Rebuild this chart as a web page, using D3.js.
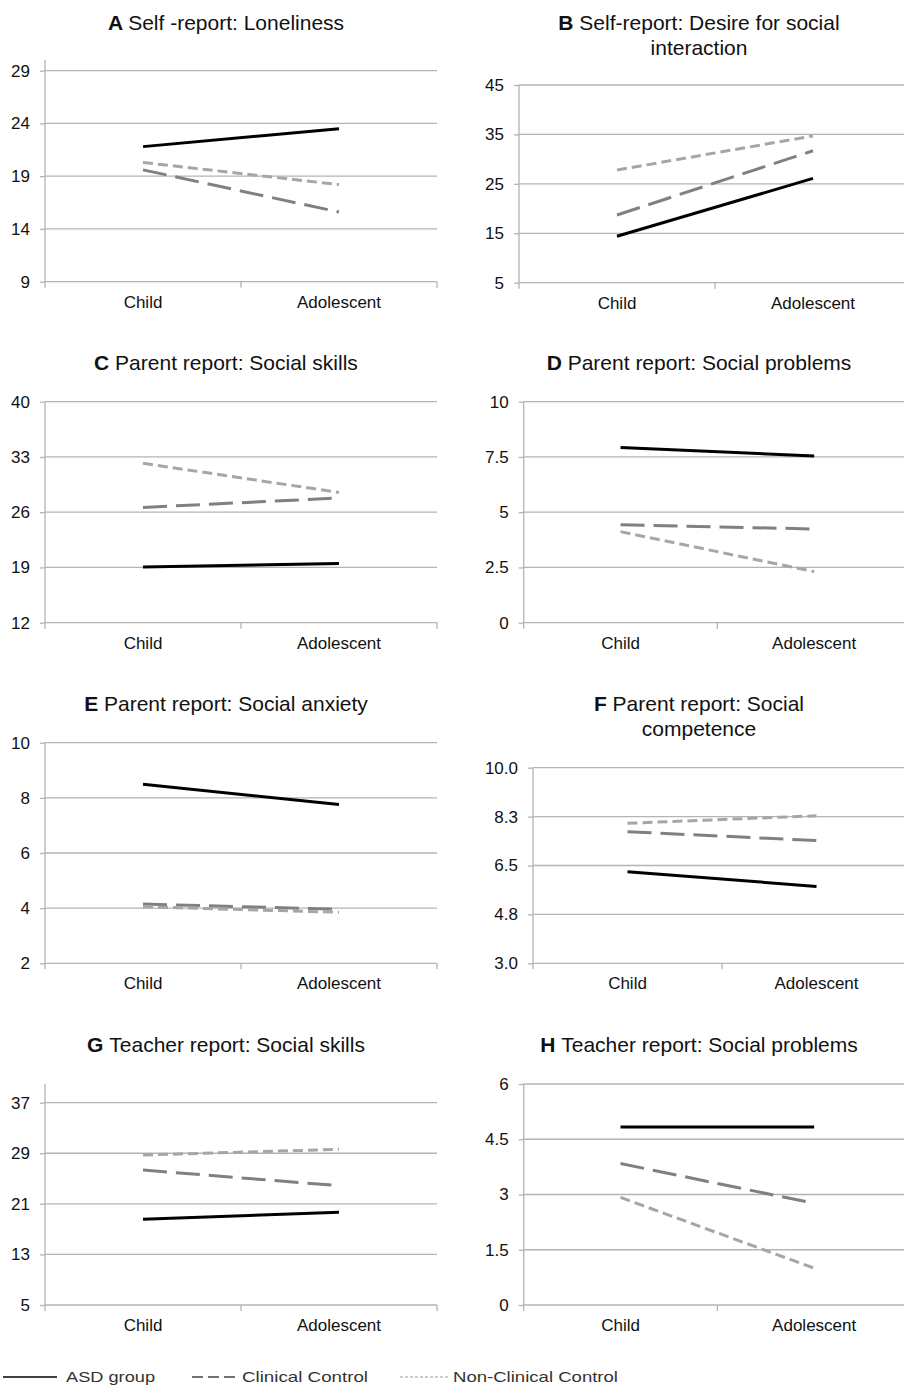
<!DOCTYPE html>
<html>
<head>
<meta charset="utf-8">
<script src="https://cdnjs.cloudflare.com/ajax/libs/d3/7.8.5/d3.min.js"></script>
<style>
  html, body { margin: 0; padding: 0; background: #fff; }
  svg { display: block; font-family: "Liberation Sans", Arial, sans-serif; }
</style>
</head>
<body>
<svg id="chart" width="904" height="1387"></svg>
<script>
// ---- Data -------------------------------------------------------------
const periods = ["Child", "Adolescent"];
const groups = ["ASD group", "Clinical Control", "Non-Clinical Control"];

const panelLetters = ["A", "B", "C", "D", "E", "F", "G", "H"];
const panelTitles = [
  ["Self -report: Loneliness"],
  ["Self-report: Desire for social", "interaction"],
  ["Parent report: Social skills"],
  ["Parent report: Social problems"],
  ["Parent report: Social anxiety"],
  ["Parent report: Social", "competence"],
  ["Teacher report: Social skills"],
  ["Teacher report: Social problems"]
];

// Mean scores per panel: [Child, Adolescent]
const asdValues = [
  [21.8, 23.5], [14.4, 26.1], [19.05, 19.5], [7.93, 7.54],
  [8.49, 7.76], [6.28, 5.75], [18.55, 19.66], [4.83, 4.83]
];
const clinicalValues = [
  [19.6, 15.6], [18.7, 31.7], [26.6, 27.8], [4.43, 4.24],
  [4.15, 3.96], [7.71, 7.39], [26.35, 23.87], [3.84, 2.76]
];
const nonClinicalValues = [
  [20.3, 18.2], [27.8, 34.7], [32.2, 28.5], [4.12, 2.31],
  [4.05, 3.85], [8.01, 8.28], [28.72, 29.62], [2.92, 1.0]
];

// Y-axis ticks and axis maximum per panel
const yTicks = [
  [9, 14, 19, 24, 29],
  [5, 15, 25, 35, 45],
  [12, 19, 26, 33, 40],
  [0, 2.5, 5, 7.5, 10],
  [2, 4, 6, 8, 10],
  [3, 4.75, 6.5, 8.25, 10],
  [5, 13, 21, 29, 37],
  [0, 1.5, 3, 4.5, 6]
];
const yMax = [30, 45, 40, 10, 10, 10, 40, 6];
const yTickFormats = ["d", "d", "d", "~g", "d", ".1f", "d", "~g"];

// ---- Layout -----------------------------------------------------------
const svg = d3.select("#chart");
const gridColor = "#b4b4b4";

// plot frames: left edge of y axis, right edge, pixel of bottom tick, pixel of axis top
const frames = [
  { x0: 45,    x1: 437, yb: 281.7,  yt: 60.1 },
  { x0: 519,   x1: 911, yb: 282.7,  yt: 85 },
  { x0: 45,    x1: 437, yb: 622.7,  yt: 401.7 },
  { x0: 523.7, x1: 911, yb: 622.7,  yt: 401.7 },
  { x0: 45,    x1: 437, yb: 963.3,  yt: 742.7 },
  { x0: 533,   x1: 911, yb: 963.3,  yt: 767.7 },
  { x0: 45,    x1: 437, yb: 1305,   yt: 1083.7 },
  { x0: 523.7, x1: 911, yb: 1305,   yt: 1084 }
];
const titleX = [226, 699, 226, 699, 226, 699, 226, 699];
const titleY = [30, 30, 370, 370, 711, 711, 1052, 1052];

const seriesStyles = [
  { color: "#000000", width: 3, dash: null },
  { color: "#808080", width: 3, dash: "24,9" },
  { color: "#a6a6a6", width: 3, dash: "10,5" }
];

panelLetters.forEach((letter, i) => {
  const f = frames[i];
  const g = svg.append("g");

  const x = d3.scaleBand().domain(periods).range([f.x0, f.x1]);
  const y = d3.scaleLinear().domain([yTicks[i][0], yMax[i]]).range([f.yb, f.yt]);

  // gridlines
  g.selectAll("line.grid")
    .data(yTicks[i].slice(1))
    .join("line")
    .attr("x1", f.x0).attr("x2", f.x1)
    .attr("y1", d => y(d)).attr("y2", d => y(d))
    .attr("stroke", gridColor).attr("stroke-width", 1.3);

  // y axis
  const yAxis = d3.axisLeft(y)
    .tickValues(yTicks[i])
    .tickSize(5)
    .tickPadding(10)
    .tickFormat(d3.format(yTickFormats[i]));
  const ya = g.append("g").attr("transform", `translate(${f.x0},0)`).call(yAxis);
  ya.select(".domain").attr("stroke", gridColor).attr("stroke-width", 1.3)
    .attr("d", `M0,${f.yb}V${f.yt}`);
  ya.selectAll(".tick line").attr("stroke", gridColor).attr("stroke-width", 1.3);
  ya.selectAll(".tick text").attr("font-size", 17).attr("fill", "#111")
    .attr("font-family", "'Liberation Sans', Arial, sans-serif");

  // x axis
  const xa = g.append("g").attr("transform", `translate(0,${f.yb})`)
    .call(d3.axisBottom(x).tickSize(0).tickPadding(0));
  xa.select(".domain").attr("stroke", gridColor).attr("stroke-width", 1.3)
    .attr("d", `M${f.x0},0H${f.x1}`);
  xa.selectAll(".tick text").attr("font-size", 17).attr("fill", "#111")
    .attr("dy", 0).attr("y", 26)
    .attr("font-family", "'Liberation Sans', Arial, sans-serif");
  // category boundary ticks
  const bounds = [f.x0, f.x0 + x.bandwidth(), f.x0 + 2 * x.bandwidth()];
  g.selectAll("line.xtick").data(bounds).join("line")
    .attr("x1", d => d).attr("x2", d => d)
    .attr("y1", f.yb).attr("y2", f.yb + 6)
    .attr("stroke", gridColor).attr("stroke-width", 1.3);

  // series lines
  const seriesData = [asdValues[i], clinicalValues[i], nonClinicalValues[i]];
  const line = d3.line()
    .x((d, k) => x(periods[k]) + x.bandwidth() / 2)
    .y(d => y(d));
  seriesData.forEach((vals, s) => {
    const st = seriesStyles[s];
    g.append("path")
      .datum(vals)
      .attr("d", line)
      .attr("fill", "none")
      .attr("stroke", st.color)
      .attr("stroke-width", st.width)
      .attr("stroke-dasharray", st.dash);
  });

  // title
  const t = g.append("text")
    .attr("x", titleX[i]).attr("y", titleY[i])
    .attr("text-anchor", "middle")
    .attr("font-size", 21)
    .attr("fill", "#111");
  t.append("tspan").attr("font-weight", "bold").text(letter + " ");
  t.append("tspan").text(panelTitles[i][0]);
  if (panelTitles[i].length > 1) {
    g.append("text")
      .attr("x", titleX[i]).attr("y", titleY[i] + 25)
      .attr("text-anchor", "middle")
      .attr("font-size", 21)
      .attr("fill", "#111")
      .text(panelTitles[i][1]);
  }
});

// ---- Legend -----------------------------------------------------------
const legendItems = [
  { x0: 3,   x1: 57,  tx: 66,  tw: 89,  color: "#000", width: 1.6, dash: null },
  { x0: 192, x1: 236, tx: 242, tw: 126, color: "#444", width: 1.4, dash: "11,5" },
  { x0: 400, x1: 448, tx: 453, tw: 165, color: "#999", width: 1.2, dash: "3,2" }
];
const legend = svg.append("g");
legendItems.forEach((it, k) => {
  legend.append("line")
    .attr("x1", it.x0).attr("x2", it.x1)
    .attr("y1", 1377).attr("y2", 1377)
    .attr("stroke", it.color).attr("stroke-width", it.width)
    .attr("stroke-dasharray", it.dash);
  legend.append("text")
    .attr("x", it.tx).attr("y", 1382)
    .attr("font-size", 15)
    .attr("fill", "#333")
    .attr("textLength", it.tw)
    .attr("lengthAdjust", "spacingAndGlyphs")
    .text(groups[k]);
});
</script>
</body>
</html>
